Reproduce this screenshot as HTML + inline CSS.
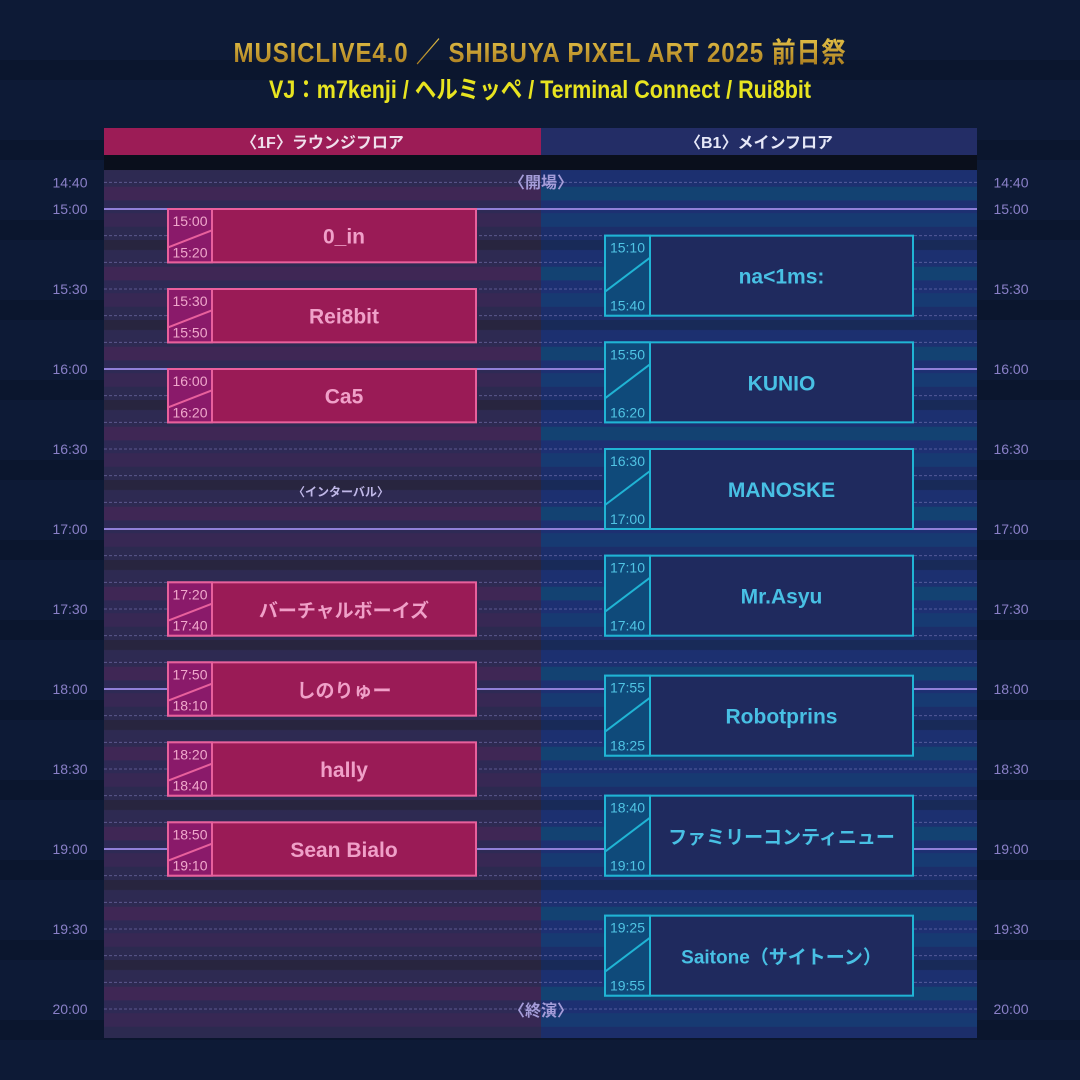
<!DOCTYPE html>
<html><head><meta charset="utf-8">
<style>
body{margin:0;width:1080px;height:1080px;background:#0c1833;overflow:hidden;font-family:"Liberation Sans","Noto Sans CJK JP",sans-serif}
#wrap{position:relative;width:1080px;height:1080px;background:repeating-linear-gradient(180deg,#0d1a36 0,#0d1a36 60px,#0b162e 60px,#0b162e 80px)}
.title{position:absolute;left:0;width:1080px;top:31px;text-align:center;font-weight:bold;font-size:28px;letter-spacing:1px;color:#c9a22a;background:linear-gradient(180deg,#f0d050,#a07018);-webkit-background-clip:text;background-clip:text;-webkit-text-fill-color:transparent;transform:scaleX(0.86)}
.sub{position:absolute;left:0;width:1080px;top:70px;text-align:center;font-weight:bold;font-size:25px;color:#e8e420;transform:scaleX(0.86)}
</style></head><body>
<div id="wrap">
<div class="title">MUSICLIVE4.0 ／ SHIBUYA PIXEL ART 2025 前日祭</div>
<div class="sub">VJ：m7kenji / ヘルミッペ / Terminal Connect / Rui8bit</div>
<svg id="chart" width="1080" height="1080" style="position:absolute;left:0;top:0">
<defs>
<linearGradient id="lg" x1="0" y1="0" x2="0" y2="80" gradientUnits="userSpaceOnUse" spreadMethod="repeat">
<stop offset="0" stop-color="#28253f"/><stop offset="0.12" stop-color="#28253f"/>
<stop offset="0.13" stop-color="#2e2a52"/><stop offset="0.33" stop-color="#2e2a52"/>
<stop offset="0.34" stop-color="#3f2755"/><stop offset="0.5" stop-color="#3f2755"/>
<stop offset="0.51" stop-color="#2e2a55"/><stop offset="0.66" stop-color="#2e2a55"/>
<stop offset="0.67" stop-color="#372854"/><stop offset="0.83" stop-color="#372854"/>
<stop offset="0.84" stop-color="#2c2a50"/><stop offset="1" stop-color="#2c2a50"/>
</linearGradient>
<linearGradient id="rg" x1="0" y1="0" x2="0" y2="80" gradientUnits="userSpaceOnUse" spreadMethod="repeat">
<stop offset="0" stop-color="#182a58"/><stop offset="0.12" stop-color="#182a58"/>
<stop offset="0.13" stop-color="#1c3070"/><stop offset="0.33" stop-color="#1c3070"/>
<stop offset="0.34" stop-color="#134272"/><stop offset="0.5" stop-color="#134272"/>
<stop offset="0.51" stop-color="#1d3072"/><stop offset="0.66" stop-color="#1d3072"/>
<stop offset="0.67" stop-color="#173a72"/><stop offset="0.83" stop-color="#173a72"/>
<stop offset="0.84" stop-color="#1c2e6a"/><stop offset="1" stop-color="#1c2e6a"/>
</linearGradient>
</defs>
</svg>
</div>
<script>
const leftArtists=["0_in","Rei8bit","Ca5","バーチャルボーイズ","しのりゅー","hally","Sean Bialo"];
const leftStart=["15:00","15:30","16:00","17:20","17:50","18:20","18:50"];
const leftEnd=["15:20","15:50","16:20","17:40","18:10","18:40","19:10"];
const rightArtists=["na<1ms:","KUNIO","MANOSKE","Mr.Asyu","Robotprins","ファミリーコンティニュー","Saitone（サイトーン）"];
const rightStart=["15:10","15:50","16:30","17:10","17:55","18:40","19:25"];
const rightEnd=["15:40","16:20","17:00","17:40","18:25","19:10","19:55"];
const tickLabels=["14:40","15:00","15:30","16:00","16:30","17:00","17:30","18:00","18:30","19:00","19:30","20:00"];
const tickTimes=["14:50","15:00","15:30","16:00","16:30","17:00","17:30","18:00","18:30","19:00","19:30","20:00"];
const solidHours=["15:00","16:00","17:00","18:00","19:00"];

const NS="http://www.w3.org/2000/svg";
const svg=document.getElementById('chart');
const X0=104,XM=541,X1=977,TOP=170,BOT=1038;
function mins(t){const p=t.split(':');return (+p[0])*60+(+p[1]);}
function y(t){return 209+(mins(t)-900)*160/60;}
function el(tag,attrs,parent){const e=document.createElementNS(NS,tag);for(const k in attrs)e.setAttribute(k,attrs[k]);(parent||svg).appendChild(e);return e;}
function txt(s,attrs){const e=el('text',attrs);e.textContent=s;return e;}

let h=el('rect',{x:X0,y:128,width:XM-X0,height:27,fill:'#9c1c56'});


h=el('rect',{x:XM,y:128,width:X1-XM,height:27,fill:'#232d66'});


el('rect',{x:X0,y:155,width:X1-X0,height:15,fill:'#0a0f1c'});
let t=txt('〈1F〉ラウンジフロア',{x:(X0+XM)/2,y:148,'text-anchor':'middle','font-size':16,'font-weight':'bold',fill:'#f0e0ec'});


t=txt('〈B1〉メインフロア',{x:(XM+X1)/2,y:148,'text-anchor':'middle','font-size':16,'font-weight':'bold',fill:'#e6e8f8'});



let p=el('rect',{x:X0,y:TOP,width:XM-X0,height:BOT-TOP,fill:'url(#lg)'});


p=el('rect',{x:XM,y:TOP,width:X1-XM,height:BOT-TOP,fill:'url(#rg)'});



for(let m=mins("14:50");m<=mins("20:00");m+=10){
  const hh=Math.floor(m/60),mm=m%60;const ts=hh+':'+(mm<10?'0':'')+mm;
  if(solidHours.includes(ts))continue;
  const l=el('line',{x1:X0,x2:X1,y1:y(ts),y2:y(ts),stroke:'#8a86c8','stroke-width':1,'stroke-dasharray':'3,2',opacity:0.5});
  
  
}
solidHours.forEach(s=>{
  const l=el('line',{x1:X0,x2:X1,y1:y(s),y2:y(s),stroke:'#9080d8','stroke-width':2});
  
  
});
tickLabels.forEach((lab,i)=>{
  const yy=y(tickTimes[i])+5;
  let a=txt(lab,{x:70,y:yy,'text-anchor':'middle','font-size':14,fill:'#8a80c8'});
  
  
  a=txt(lab,{x:1011,y:yy,'text-anchor':'middle','font-size':14,fill:'#8a80c8'});
  
  
});
t=txt('〈開場〉',{x:XM,y:188,'text-anchor':'middle','font-size':16,'font-weight':'bold',fill:'#a49cd8'});


t=txt('〈終演〉',{x:XM,y:1016,'text-anchor':'middle','font-size':16,'font-weight':'bold',fill:'#a49cd8'});


t=txt('〈インターバル〉',{x:341,y:496,'text-anchor':'middle','font-size':12,'font-weight':'bold',fill:'#c0b8e8'});



function block(name,s,e,left){
  const x0=left?168:605,x1=left?476:913,tb=left?212:650;
  const y0=y(s),y1=y(e),hh=y1-y0;
  const g=el('g',{});
  
  
  const stroke=left?'#e8609c':'#20b4d4';
  el('rect',{x:x0,y:y0,width:x1-x0,height:hh,fill:left?'#9a1b56':'#1f2a5e',stroke:stroke,'stroke-width':2},g);
  el('rect',{x:x0,y:y0,width:tb-x0,height:hh,fill:left?'#8a1a6a':'#0f4a7a',stroke:stroke,'stroke-width':2},g);
  if(left) el('line',{x1:x0,y1:y0+hh*0.72,x2:tb,y2:y0+hh*0.4,stroke:stroke,'stroke-width':2},g);
  else el('line',{x1:x0,y1:y1-24,x2:tb,y2:y0+22,stroke:stroke,'stroke-width':2},g);
  const tc=left?'#f0a8cc':'#50c4e4';
  let a=el('text',{x:(x0+tb)/2,y:y0+17,'text-anchor':'middle','font-size':14,fill:tc},g);a.textContent=s;
  a=el('text',{x:(x0+tb)/2,y:y1-5,'text-anchor':'middle','font-size':14,fill:tc},g);a.textContent=e;
  const jp=!/^[\x00-\x7f]*$/.test(name);
  a=el('text',{x:(tb+x1)/2,y:y0+hh/2+8,'text-anchor':'middle','font-size':jp?19:21,'font-weight':'bold',fill:left?'#f0a0c8':'#48c0e4'},g);
  a.textContent=name;
}
leftArtists.forEach((n,i)=>block(n,leftStart[i],leftEnd[i],true));
rightArtists.forEach((n,i)=>block(n,rightStart[i],rightEnd[i],false));
</script>
</body></html>
